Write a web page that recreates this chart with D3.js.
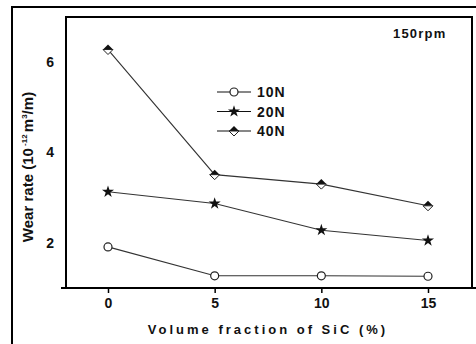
<!DOCTYPE html>
<html>
<head>
<meta charset="utf-8">
<script src="https://cdn.jsdelivr.net/npm/d3@7"></script>
<style>
  body { margin: 0; background: #fff; }
  text { font-family: "Liberation Sans", Arial, sans-serif; font-weight: bold; fill: #111; }
</style>
</head>
<body>
<div id="chart"></div>
<script>
const fractions = [0, 5, 10, 15];
const wear10N = [1.91, 1.27, 1.27, 1.26];
const wear20N = [3.13, 2.87, 2.28, 2.05];
const wear40N = [6.28, 3.51, 3.30, 2.82];
const yTicks = [2, 4, 6];
const seriesNames = ["10N", "20N", "40N"];

const width = 476, height = 344;
const box = { left: 66, top: 17, right: 472, bottom: 288 };

const svg = d3.select("#chart").append("svg")
  .attr("width", width)
  .attr("height", height);

// outer frame (runs off the right/bottom edge)
svg.append("path")
  .attr("d", "M12,344 V7 H476")
  .attr("fill", "none")
  .attr("stroke", "#000")
  .attr("stroke-width", 2);

const x = d3.scaleLinear().domain([0, 15]).range([108, 428]);
const y = d3.scaleLinear().domain([1, 7]).range([box.bottom, box.top]);

// plot box
svg.append("path")
  .attr("d", `M${box.left},${box.bottom} V${box.top} H${box.right} V${box.bottom}`)
  .attr("fill", "none")
  .attr("stroke", "#000")
  .attr("stroke-width", 2);

// x axis
const xAxis = svg.append("g")
  .attr("transform", `translate(0,${box.bottom})`)
  .call(d3.axisBottom(x).tickValues(fractions).tickSize(5).tickPadding(5).tickFormat(d3.format("d")));
xAxis.select(".domain").remove();
xAxis.selectAll(".tick line").attr("stroke", "#000").attr("stroke-width", 1.5);
xAxis.selectAll("text").style("font-size", "14px").attr("fill", "#111");
svg.append("line")
  .attr("x1", 61).attr("x2", 476)
  .attr("y1", box.bottom).attr("y2", box.bottom)
  .attr("stroke", "#000").attr("stroke-width", 2);

// y axis (labels only)
const yAxis = svg.append("g")
  .attr("transform", `translate(${box.left},0)`)
  .call(d3.axisLeft(y).tickValues(yTicks).tickSize(0).tickPadding(12).tickFormat(d3.format("d")));
yAxis.select(".domain").remove();
yAxis.selectAll("text").style("font-size", "14px").attr("fill", "#111");

const line = d3.line()
  .x((d, i) => x(fractions[i]))
  .y(d => y(d));

const allSeries = [wear10N, wear20N, wear40N];
allSeries.forEach(s => {
  svg.append("path")
    .datum(s)
    .attr("d", line)
    .attr("fill", "none")
    .attr("stroke", "#333")
    .attr("stroke-width", 1.1);
});

const star = d3.symbol().type(d3.symbolStar).size(45);

function drawMarker(g, kind, cx, cy) {
  if (kind === 0) {
    g.append("circle").attr("cx", cx).attr("cy", cy).attr("r", 4)
      .attr("fill", "#fff").attr("stroke", "#222").attr("stroke-width", 1.2);
  } else if (kind === 1) {
    g.append("path").attr("d", star).attr("transform", `translate(${cx},${cy})`)
      .attr("fill", "#111");
  } else {
    const r = 5;
    g.append("path")
      .attr("d", `M${cx - r},${cy} L${cx},${cy - r} L${cx + r},${cy} Z`)
      .attr("fill", "#111");
    g.append("path")
      .attr("d", `M${cx - r},${cy} L${cx},${cy + r} L${cx + r},${cy} Z`)
      .attr("fill", "#fff").attr("stroke", "#222").attr("stroke-width", 1);
  }
}

const markers = svg.append("g");
allSeries.forEach((s, k) => {
  s.forEach((v, i) => drawMarker(markers, k, x(fractions[i]), y(v)));
});

// legend
const legend = svg.append("g");
seriesNames.forEach((name, k) => {
  const ly = 92 + k * 19.5;
  legend.append("line")
    .attr("x1", 217).attr("x2", 251).attr("y1", ly).attr("y2", ly)
    .attr("stroke", "#111").attr("stroke-width", 1.2);
  drawMarker(legend, k, 234, ly);
  legend.append("text")
    .attr("x", 257).attr("y", ly + 5)
    .style("font-size", "14px")
    .style("letter-spacing", "1px")
    .text(name);
});

svg.append("text")
  .attr("x", 393).attr("y", 38)
  .style("font-size", "13px")
  .style("letter-spacing", "1.2px")
  .text("150rpm");

// axis titles
const yTitle = svg.append("text")
  .attr("transform", "translate(33,167) rotate(-90)")
  .attr("text-anchor", "middle")
  .style("font-size", "15px");
yTitle.append("tspan").text("Wear rate (10");
yTitle.append("tspan").attr("dy", -6).style("font-size", "8px").text(" -12 ");
yTitle.append("tspan").attr("dy", 6).text(" m");
yTitle.append("tspan").attr("dy", -6).style("font-size", "8px").text("3");
yTitle.append("tspan").attr("dy", 6).text("/m)");

svg.append("text")
  .attr("x", 268).attr("y", 334)
  .attr("text-anchor", "middle")
  .style("font-size", "13px")
  .style("letter-spacing", "3px")
  .text("Volume fraction of SiC (%)");
</script>
</body>
</html>
